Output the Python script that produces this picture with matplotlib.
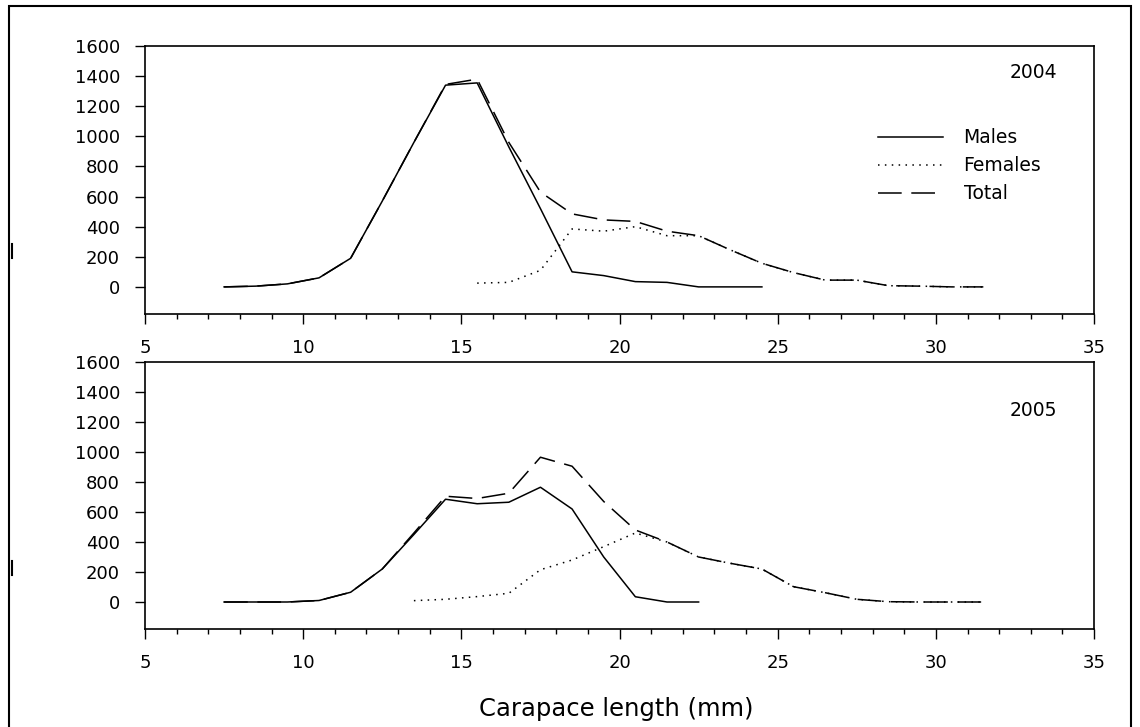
#carapace length frequency, 2004 and 2005
import numpy as np
import matplotlib.pyplot as plt
from matplotlib.patches import Rectangle
from matplotlib.lines import Line2D
plt.rcParams['font.family'] = ['DejaVu Sans']
# size classes (mid points, mm)
x_2004_m = [7.5, 8.5, 9.5, 10.5, 11.5, 12.5, 13.5, 14.5, 15.5, 16.5, 17.5, 18.5, 19.5, 20.5, 21.5, 22.5, 23.5, 24.5]
males_2004 = [0, 5, 20, 60, 190, 570, 960, 1340, 1355, 930, 520, 100, 75, 35, 30, 0, 0, 0]
x_2004_f = [15.5, 16.5, 17.5, 18.5, 19.5, 20.5, 21.5, 22.5, 23.5, 24.5, 25.5, 26.5, 27.5, 28.5, 29.5, 30.5, 31.5]
females_2004 = [25, 30, 110, 385, 370, 400, 340, 340, 246, 157, 95, 45, 45, 8, 5, 0, 0]
x_2004_t = [7.5, 8.5, 9.5, 10.5, 11.5, 12.5, 13.5, 14.5, 15.5, 16.5, 17.5, 18.5, 19.5, 20.5, 21.5, 22.5, 23.5, 24.5,
            25.5, 26.5, 27.5, 28.5, 29.5, 30.5, 31.5]
total_2004 = [0, 5, 20, 60, 190, 570, 960, 1345, 1380, 960, 630, 485, 445, 435, 370, 340, 246, 157,
              95, 45, 45, 8, 5, 0, 0]
x_2005_m = [7.5, 8.5, 9.5, 10.5, 11.5, 12.5, 13.5, 14.5, 15.5, 16.5, 17.5, 18.5, 19.5, 20.5, 21.5, 22.5]
males_2005 = [0, 0, 0, 10, 65, 220, 450, 685, 655, 665, 765, 620, 300, 35, 0, 0]
x_2005_f = [13.5, 14.5, 15.5, 16.5, 17.5, 18.5, 19.5, 20.5, 21.5, 22.5, 23.5, 24.5, 25.5, 26.5, 27.5, 28.5, 29.5, 30.5, 31.5]
females_2005 = [9, 18, 36, 58, 215, 280, 369, 460, 400, 300, 258, 220, 102, 62, 18, 2, 0, 0, 0]
x_2005_t = [7.5, 8.5, 9.5, 10.5, 11.5, 12.5, 13.5, 14.5, 15.5, 16.5, 17.5, 18.5, 19.5, 20.5, 21.5, 22.5, 23.5, 24.5,
            25.5, 26.5, 27.5, 28.5, 29.5, 30.5, 31.5]
total_2005 = [0, 0, 0, 10, 65, 220, 460, 705, 690, 725, 965, 905, 670, 480, 400, 300, 258, 220,
              102, 62, 18, 2, 0, 0, 0]
years = ['2004', '2005']

fig = plt.figure(figsize=(11.4, 7.27), dpi=100)
# outer frame
fig.patches.append(Rectangle((9/1140, -0.01), 1122/1140, 1 - 6/727 + 0.01, transform=fig.transFigure,
                             fill=False, edgecolor='black', linewidth=1.5))
# little marks on the left edge of the frame
for y0, y1 in [(244, 258), (561, 575)]:
    fig.lines.append(Line2D([11.5/1140, 11.5/1140], [1 - y0/727, 1 - y1/727], transform=fig.transFigure,
                            color='black', linewidth=1.5))
ax1 = fig.add_axes([0.1272, 0.5681, 0.8325, 0.3686])
ax2 = fig.add_axes([0.1272, 0.1348, 0.8325, 0.3673])

data = [(ax1, x_2004_m, males_2004, x_2004_f, females_2004, x_2004_t, total_2004),
        (ax2, x_2005_m, males_2005, x_2005_f, females_2005, x_2005_t, total_2005)]
year_y = [0.903, 0.820]
for i, (ax, xm, ym, xf, yf, xt, yt) in enumerate(data):
    ax.plot(xm, ym, color='black', linewidth=1.1, label='Males')
    ax.plot(xf, yf, color='black', linewidth=1.1, linestyle=(0, (1, 3.5)), label='Females')
    ax.plot(xt, yt, color='black', linewidth=1.1, linestyle=(0, (15.5, 6.3)), label='Total')
    ax.set_xlim(5, 35)
    ax.set_ylim(-180, 1600)
    ax.set_xticks(np.arange(5, 36, 5))
    ax.set_xticks(np.arange(5, 36, 1), minor=True)
    ax.set_yticks(np.arange(0, 1601, 200))
    ax.tick_params(axis='both', which='major', length=7, width=1, labelsize=13, direction='out', pad=11)
    ax.tick_params(axis='x', which='minor', length=3.6, width=1, direction='out')
    for s in ax.spines.values():
        s.set_linewidth(1.2)
    ax.text(0.961, year_y[i], years[i], transform=ax.transAxes, ha='right', va='center', fontsize=13.5)

ax1.legend(loc='upper left', bbox_to_anchor=(0.755, 0.756), frameon=False, fontsize=13.5,
           handlelength=3.47, handletextpad=1.07, labelspacing=0.48)
fig.text(0.541, 1 - 709/727, 'Carapace length (mm)', ha='center', va='center', fontsize=17.5)

plt.savefig('out.png', dpi=100)
